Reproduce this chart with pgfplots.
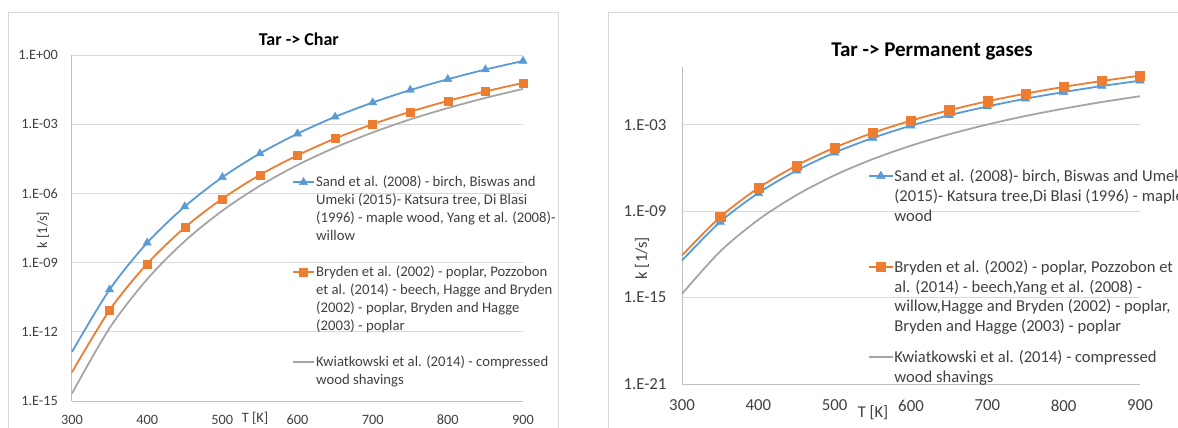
\documentclass[border=0pt]{standalone}
\usepackage{fontspec}
\setmainfont{Carlito}
\usepackage{pgfplots}
\pgfplotsset{compat=1.18}
\definecolor{xblue}{HTML}{5B9BD5}
\definecolor{xorange}{HTML}{ED7D31}
\definecolor{xgray}{HTML}{A5A5A5}
\definecolor{gridc}{HTML}{D9D9D9}
\definecolor{axc}{HTML}{BFBFBF}
\definecolor{txt}{HTML}{404040}

\pgfplotsset{
 sblue/.style={xblue, line width=1.8pt, smooth, mark=triangle*, mark size=4.8pt, mark phase=2, mark options={solid, fill=xblue, draw=xblue, line width=0.4pt}},
 sorange/.style={xorange, line width=1.8pt, smooth, mark=square*, mark size=4pt, mark phase=2, mark options={solid, fill=xorange, draw=xorange, line width=0.4pt}},
 sgray/.style={xgray, line width=1.8pt, smooth, mark=none},
}

\begin{document}
\begin{tikzpicture}[x=1pt,y=1pt]
\path[use as bounding box] (0,0) rectangle (1178,428);
\clip (0,0) rectangle (1178,428);
\draw[gridc, line width=1pt] (8.5,415.5) rectangle (558,-10);
\draw[gridc, line width=1pt] (608,415.5) rectangle (1200,-10);

% ---------------- Tar -> Char
\begin{axis}[at={(72pt,27pt)}, anchor=south west, width=451pt, height=346pt,
  scale only axis, ymode=log, xmin=300, xmax=900,
  axis x line*=bottom, axis y line*=left,
  axis line style={axc, line width=1pt, -},
  xtick={300,400,...,900}, xticklabels={300,400,500,600,700,800,900},
  major tick length=0pt, minor tick length=0pt, yminorticks=false,
  ymajorgrids, grid style={gridc, line width=1pt},
  tick label style={font=\fontsize{14.3}{16}\selectfont, text=txt},
  legend style={draw=none, fill=none, inner sep=0pt, outer sep=0pt,
    font=\fontsize{14.7}{18}\selectfont, text=txt, cells={anchor=base west},
    nodes={inner sep=0pt, text depth=, text=txt},
    row sep=18pt, column sep=1.3pt, at={(rel axis cs:0.488,0.655)}, anchor=north west},
  legend image code/.code={\draw[mark repeat=2, mark phase=2] plot coordinates {(0pt,4.7pt) (10.5pt,4.7pt) (21pt,4.7pt)};},
  clip=false,
  ymin=1e-15, ymax=1,
  ytick={1e-15,1e-12,1e-9,1e-6,1e-3,1},
  yticklabels={1.E-15,1.E-12,1.E-09,1.E-06,1.E-03,1.E+00},
  yticklabel style={inner sep=0pt, anchor=east, xshift=-14pt},
  xticklabel style={inner sep=0pt, anchor=north, yshift=-14pt},
  xlabel={T [K]},
  xlabel style={at={([yshift=-17pt]rel axis cs:0.406,0)}, anchor=center, font=\fontsize{14.3}{16}\selectfont, text=txt},
  ylabel={k [1/s]},
  ylabel style={at={([xshift=-29pt]rel axis cs:0,0.494)}, anchor=center, font=\fontsize{14.3}{16}\selectfont, text=txt},
]
\node[anchor=base, font=\fontsize{18}{21}\selectfont\bfseries] at ([yshift=9.5pt]rel axis cs:0.503,1) {Tar -> Char};
\addplot[sblue] coordinates {
 (300,1.35e-13) (350,6.76e-11) (400,7.24e-9) (450,2.69e-7) (500,5.01e-6)
 (550,5.37e-5) (600,3.89e-4) (650,2.09e-3) (700,8.71e-3) (750,3.02e-2)
 (800,8.91e-2) (850,2.34e-1) (900,5.50e-1)};
\addlegendentry{\begin{tabular}[t]{@{}l@{}}Sand et al. (2008) - birch, Biswas and\\Umeki (2015)- Katsura tree, Di Blasi\\(1996) - maple wood, Yang et al. (2008)-\\willow\end{tabular}}
\addplot[sorange] coordinates {
 (300,1.78e-14) (350,8.71e-12) (400,8.91e-10) (450,3.31e-8) (500,5.89e-7)
 (550,6.31e-6) (600,4.47e-5) (650,2.40e-4) (700,1.00e-3) (750,3.47e-3)
 (800,1.02e-2) (850,2.63e-2) (900,6.17e-2)};
\addlegendentry{\begin{tabular}[t]{@{}l@{}}Bryden et al. (2002) - poplar, Pozzobon\\et al. (2014) - beech, Hagge and Bryden\\(2002) - poplar, Bryden and Hagge\\(2003) - poplar\end{tabular}}
\addplot[sgray] coordinates {
 (300,2.14e-15) (350,1.45e-12) (400,1.91e-10) (450,8.51e-9) (500,1.78e-7)
 (550,2.14e-6) (600,1.70e-5) (650,9.77e-5) (700,4.37e-4) (750,1.62e-3)
 (800,5.01e-3) (850,1.38e-2) (900,3.39e-2)};
\addlegendentry{\begin{tabular}[t]{@{}l@{}}Kwiatkowski et al. (2014) - compressed\\wood shavings\end{tabular}}
\end{axis}

% ---------------- Tar -> Permanent gases
\begin{axis}[at={(682pt,44pt)}, anchor=south west, width=458pt, height=317pt,
  scale only axis, ymode=log, xmin=300, xmax=900,
  axis x line*=bottom, axis y line*=left,
  axis line style={axc, line width=1pt, -},
  xtick={300,400,...,900}, xticklabels={300,400,500,600,700,800,900},
  major tick length=0pt, minor tick length=0pt, yminorticks=false,
  ymajorgrids, grid style={gridc, line width=1pt},
  tick label style={font=\fontsize{16.8}{19}\selectfont, text=txt},
  legend style={draw=none, fill=none, inner sep=0pt, outer sep=0pt,
    font=\fontsize{16.6}{19.7}\selectfont, text=txt, cells={anchor=base west},
    nodes={inner sep=0pt, text depth=, text=txt},
    row sep=11.7pt, column sep=0.7pt, at={(rel axis cs:0.406,0.681)}, anchor=north west},
  legend image code/.code={\draw[mark repeat=2, mark phase=2] plot coordinates {(0pt,5.8pt) (12pt,5.8pt) (24pt,5.8pt)};},
  clip=false,
  ymin=1e-21, ymax=10,
  ytick={1e-21,1e-15,1e-9,1e-3},
  yticklabels={1.E-21,1.E-15,1.E-09,1.E-03},
  yticklabel style={inner sep=0pt, anchor=east, xshift=-15.3pt},
  xticklabel style={inner sep=0pt, anchor=north, yshift=-15.5pt},
  xlabel={T [K]},
  xlabel style={at={([yshift=-29pt]rel axis cs:0.417,0)}, anchor=center, font=\fontsize{16.5}{19}\selectfont, text=txt},
  ylabel={k [1/s]},
  ylabel style={at={([xshift=-40pt]rel axis cs:0,0.397)}, anchor=center, font=\fontsize{16.5}{19}\selectfont, text=txt},
]
\node[anchor=base, font=\fontsize{21}{24}\selectfont\bfseries] at ([yshift=10.3pt]rel axis cs:0.546,1) {Tar -> Permanent gases};
\addplot[sblue, mark size=5pt] coordinates {
 (300,3.72e-13) (350,1.78e-10) (400,1.78e-8) (450,6.46e-7) (500,1.15e-5)
 (550,1.20e-4) (600,8.51e-4) (650,4.47e-3) (700,1.82e-2) (750,6.31e-2)
 (800,1.82e-1) (850,4.79e-1) (900,1.12)};
\addlegendentry{\begin{tabular}[t]{@{}l@{}}Sand et al. (2008)- birch, Biswas and Umeki\\(2015)- Katsura tree,Di Blasi (1996) - maple\\wood\\\mbox{}\end{tabular}}
\addplot[sorange, mark size=4.6pt] coordinates {
 (300,8.32e-13) (350,3.89e-10) (400,3.98e-8) (450,1.45e-6) (500,2.57e-5)
 (550,2.69e-4) (600,1.91e-3) (650,1.00e-2) (700,4.17e-2) (750,1.41e-1)
 (800,4.17e-1) (850,1.07) (900,2.51)};
\addlegendentry{\begin{tabular}[t]{@{}l@{}}Bryden et al. (2002) - poplar, Pozzobon et\\al. (2014) - beech,Yang et al. (2008) -\\willow,Hagge and Bryden (2002) - poplar,\\Bryden and Hagge (2003) - poplar\end{tabular}}
\addplot[sgray] coordinates {
 (300,1.82e-15) (350,1.58e-12) (400,2.51e-10) (450,1.29e-8) (500,3.09e-7)
 (550,4.07e-6) (600,3.47e-5) (650,2.14e-4) (700,1.02e-3) (750,3.98e-3)
 (800,1.29e-2) (850,3.72e-2) (900,9.33e-2)};
\addlegendentry{\begin{tabular}[t]{@{}l@{}}Kwiatkowski et al. (2014) - compressed\\wood shavings\end{tabular}}
\end{axis}
\end{tikzpicture}
\end{document}
